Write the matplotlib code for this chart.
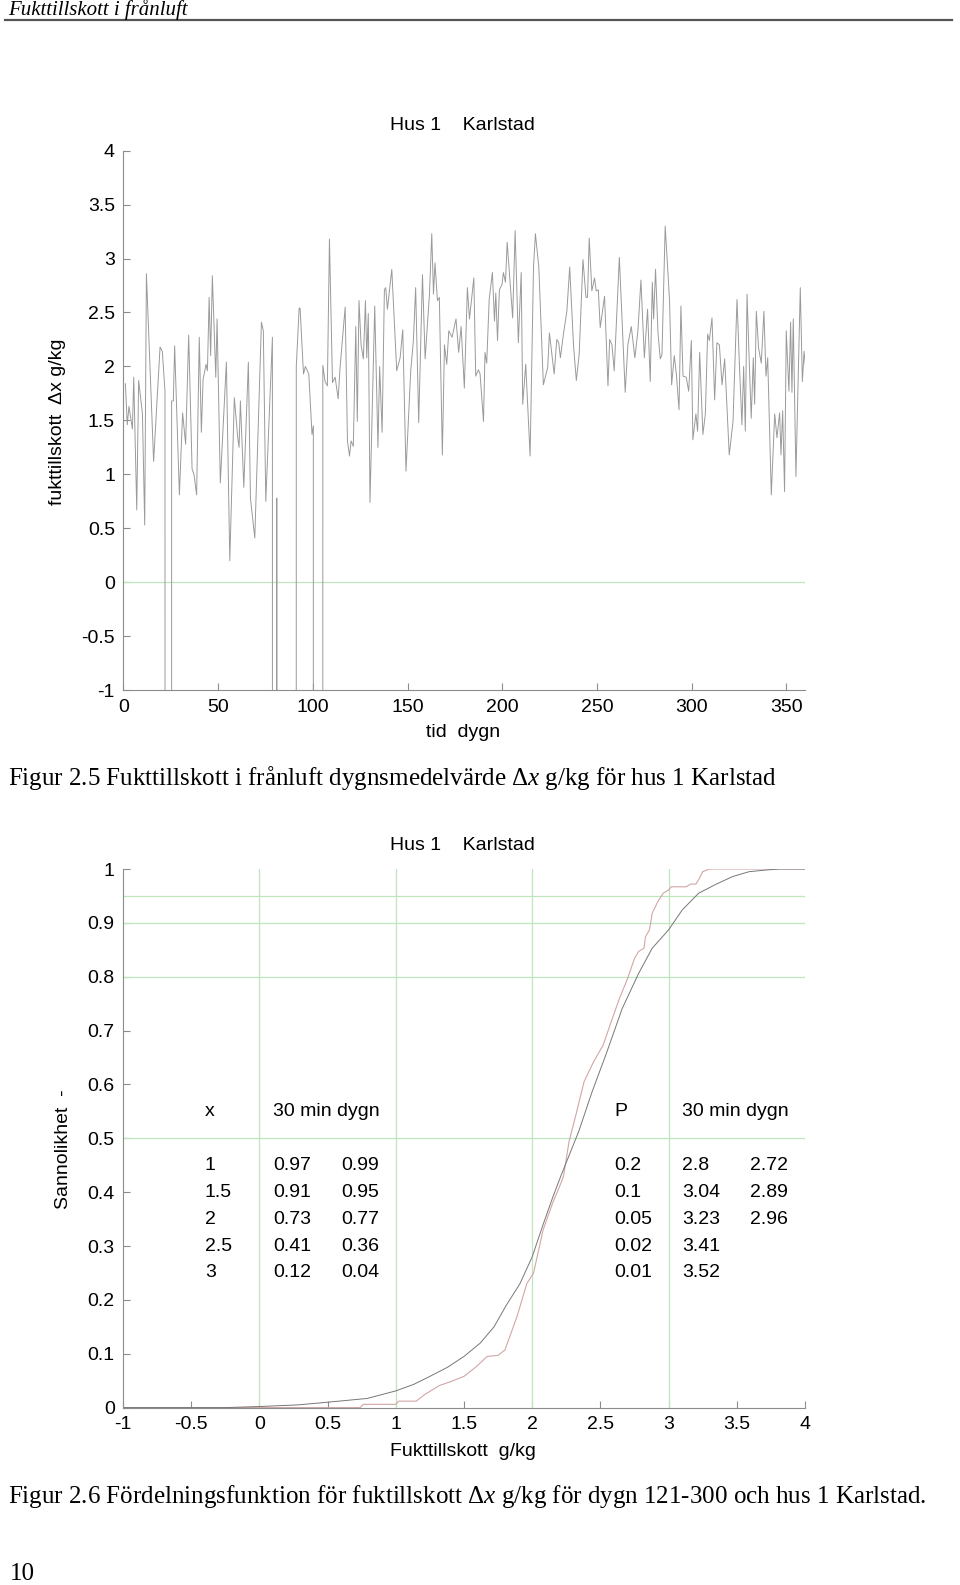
import matplotlib
matplotlib.use("Agg")
import matplotlib.pyplot as plt
from matplotlib.lines import Line2D

plt.rcParams["font.family"] = ["Liberation Sans", "DejaVu Sans"]
plt.rcParams["axes.unicode_minus"] = False
plt.rcParams["mathtext.fontset"] = "custom"
plt.rcParams["mathtext.rm"] = "Liberation Serif"
plt.rcParams["mathtext.it"] = "Liberation Serif:italic"

# ── Figur 2.5: dygnsmedelvärde, dag -> Δx g/kg (-99 = saknas) ──
day = [
    1.1, 2.1, 3.0, 4.8, 5.5, 7.1, 8.1, 10.1, 11.3, 12.2, 16.0, 19.4, 20.6, 22.0, 22.3,
    25.4, 25.5, 26.4, 27.1, 29.6, 31.3, 32.9, 34.5, 36.3, 37.3, 38.7, 40.1, 41.2, 42.1,
    43.7, 44.4, 45.3, 46.1, 47.0, 48.8, 49.5, 51.2, 54.4, 56.2, 58.6, 60.4, 61.1, 61.8,
    63.6, 66.0, 67.1, 69.4, 72.9, 73.9, 75.2, 78.7, 78.9, 80.9, 81.0, 81.1, 91.0, 91.3,
    92.8, 93.3, 95.1, 96.1, 97.9, 99.6, 100.3, 100.5, 105.2, 105.3, 106.5, 107.7, 108.8,
    110.4, 111.8, 113.4, 114.4, 117.1, 118.3, 119.4, 120.2, 121.4, 122.7, 123.5, 124.4,
    125.5, 126.7, 127.8, 128.5, 129.3, 130.2, 132.7, 134.4, 135.3, 136.6, 137.8, 138.5,
    139.4, 141.7, 144.3, 146.1, 147.5, 149.2, 151.7, 153.1, 154.3, 155.9, 157.9, 159.3,
    161.6, 162.8, 163.7, 164.5, 165.8, 166.8, 168.4, 169.5, 170.7, 171.8, 173.5, 175.6,
    177.0, 178.3, 180.0, 181.6, 182.7, 185.0, 186.0, 187.4, 188.3, 190.1, 190.9, 191.8,
    193.1, 194.8, 195.9, 196.6, 197.5, 198.5, 199.9, 200.6, 201.7, 202.6, 205.5, 206.8,
    208.5, 210.0, 210.8, 212.4, 214.7, 216.5, 217.5, 219.3, 221.7, 224.0, 224.9, 227.4,
    228.8, 229.8, 230.7, 232.3, 234.1, 235.6, 237.6, 239.1, 240.6, 242.6, 244.2, 245.0,
    245.9, 247.3, 248.7, 249.6, 250.7, 251.7, 254.0, 255.8, 256.7, 257.9, 259.1, 261.8,
    264.9, 266.3, 268.1, 270.0, 271.6, 273.2, 275.0, 276.7, 278.1, 279.2, 279.9, 280.9,
    282.2, 283.4, 284.3, 286.0, 288.3, 289.4, 290.8, 291.9, 293.3, 294.3, 295.4, 297.1,
    298.4, 299.8, 300.6, 302.2, 303.1, 304.2, 305.9, 307.2, 308.4, 309.3, 310.7, 312.1,
    313.3, 314.6, 316.0, 317.4, 319.8, 321.8, 323.9, 325.1, 326.5, 327.4, 328.3, 329.2,
    330.2, 331.4, 332.5, 333.2, 334.1, 335.3, 336.7, 338.1, 339.2, 340.1, 342.0, 343.8,
    345.0, 346.4, 347.1, 348.0, 349.0, 349.9, 351.3, 352.2, 352.9, 353.6, 355.0, 357.3,
    358.4, 359.3, 360.8,
]
dx = [
    1.84, 1.46, 1.63, 1.42, 1.90, 0.67, 1.87, 1.56, 0.53, 2.86, 1.12, 2.18, 2.14, 1.77, -99,
    -99, 1.68, 1.68, 2.19, 0.81, 1.57, 1.28, 2.29, 1.05, 1.00, 0.81, 2.27, 1.39, 1.88,
    2.02, 1.96, 2.64, 2.10, 2.84, 1.90, 2.44, 0.92, 2.04, 0.20, 1.71, 1.34, 1.25, 1.68,
    0.88, 2.04, 0.78, 0.41, 2.41, 2.33, 0.75, 2.27, -99, -99, 0.78, -99, -99, 2.00,
    2.54, 2.54, 1.93, 2.00, 1.93, 1.37, 1.45, -99, -99, 2.01, 1.86, 1.82, 3.18,
    1.85, 1.90, 1.70, 1.99, 2.55, 1.31, 1.17, 1.31, 1.26, 2.37, 1.49, 2.61,
    2.20, 2.07, 2.61, 2.08, 2.49, 0.74, 2.56, 1.25, 2.00, 1.39, 2.71, 2.73,
    2.53, 2.90, 1.96, 2.08, 2.34, 1.03, 1.96, 2.24, 2.73, 1.48, 2.85, 2.07,
    2.67, 3.23, 2.67, 2.96, 2.61, 2.64, 1.18, 2.20, 2.02, 2.33, 2.27, 2.44,
    2.13, 2.37, 1.80, 2.73, 2.44, 2.82, 1.91, 1.97, 1.93, 1.49, 2.13, 2.03,
    2.62, 2.87, 2.42, 2.68, 2.24, 2.71, 2.76, 2.87, 2.78, 3.15, 2.45, 3.26,
    2.22, 2.87, 1.65, 2.02, 1.17, 2.92, 3.23, 2.92, 1.83, 1.99, 2.31, 1.93,
    2.25, 2.22, 2.08, 2.30, 2.51, 2.92, 2.20, 1.87, 2.11, 2.99, 2.64, 2.64,
    3.19, 2.70, 2.82, 2.70, 2.71, 2.36, 2.65, 1.82, 2.25, 2.20, 1.96, 3.01,
    1.76, 2.20, 2.37, 2.08, 2.33, 2.80, 2.08, 2.53, 1.86, 2.78, 2.44, 2.90,
    2.31, 2.07, 2.11, 3.30, 2.61, 1.83, 2.10, 1.93, 1.60, 2.56, 1.91, 1.90,
    1.77, 2.24, 1.32, 1.56, 1.40, 2.13, 1.37, 1.56, 2.30, 2.24, 2.45, 1.69,
    2.22, 2.20, 1.83, 2.07, 1.18, 1.49, 2.62, 2.05, 1.46, 2.00, 1.40, 2.67,
    2.13, 1.52, 2.08, 1.65, 2.51, 2.17, 2.03, 2.51, 1.91, 2.08, 0.81, 1.56,
    1.34, 1.57, 1.18, 1.59, 0.84, 2.33, 1.77, 2.41, 1.76, 2.44, 0.98, 2.73,
    1.86, 2.14, 1.86,
]

# ── Figur 2.6: fördelningsfunktion ──
x_30min = [-1.0, -0.25, 0.0, 0.28, 0.5, 0.79, 1.0, 1.13, 1.25, 1.38, 1.5, 1.62, 1.72, 1.81,
           1.91, 2.0, 2.08, 2.15, 2.21, 2.34, 2.44, 2.54, 2.66, 2.78, 2.88, 3.0, 3.10, 3.22,
           3.35, 3.47, 3.59, 3.71, 3.81, 4.0]
p_30min = [0.0, 0.0, 0.002, 0.005, 0.010, 0.017, 0.031, 0.043, 0.058, 0.075, 0.095, 0.12,
           0.15, 0.19, 0.23, 0.28, 0.34, 0.39, 0.43, 0.512, 0.587, 0.655, 0.741, 0.806,
           0.853, 0.887, 0.924, 0.955, 0.972, 0.986, 0.995, 0.998, 1.0, 1.0]
x_dygn = [-1.0, 0.74, 0.76, 1.0, 1.02, 1.15, 1.21, 1.32, 1.40, 1.50, 1.59, 1.67, 1.75, 1.80,
          1.89, 1.96, 2.01, 2.08, 2.15, 2.20, 2.23, 2.27, 2.32, 2.38, 2.45, 2.52, 2.58,
          2.64, 2.70, 2.75, 2.78, 2.82, 2.83, 2.86, 2.88, 2.92, 2.96, 3.0, 3.02, 3.13,
          3.16, 3.20, 3.22, 3.25, 3.30, 4.0]
p_dygn = [0.0, 0.0, 0.006, 0.006, 0.012, 0.012, 0.024, 0.041, 0.048, 0.058, 0.076, 0.095,
          0.097, 0.107, 0.17, 0.23, 0.25, 0.33, 0.38, 0.41, 0.43, 0.494, 0.543, 0.605,
          0.642, 0.673, 0.717, 0.760, 0.797, 0.834, 0.847, 0.853, 0.874, 0.887, 0.918,
          0.939, 0.955, 0.961, 0.967, 0.967, 0.972, 0.972, 0.980, 0.995, 1.0, 1.0]
p_levels = [0.5, 0.8, 0.9, 0.95]
x_levels = [0, 1, 2, 3]

tab_x = ["1", "1.5", "2", "2.5", "3"]
tab_x_30min = ["0.97", "0.91", "0.73", "0.41", "0.12"]
tab_x_dygn = ["0.99", "0.95", "0.77", "0.36", "0.04"]
tab_p = ["0.2", "0.1", "0.05", "0.02", "0.01"]
tab_p_30min = ["2.8", "3.04", "3.23", "3.41", "3.52"]
tab_p_dygn = ["2.72", "2.89", "2.96", "", ""]

W, H = 960, 1585
SPINE = "#8c8c8c"
GREEN = "#bfe6bf"
FS = 14
CAP = 18


def px_axes(fig, x0, y0, x1, y1):
    return fig.add_axes([x0 / W, 1 - y1 / H, (x1 - x0) / W, (y1 - y0) / H])


def matlab_style(ax):
    for s in ("top", "right"):
        ax.spines[s].set_visible(False)
    for s in ("left", "bottom"):
        ax.spines[s].set_color(SPINE)
        ax.spines[s].set_linewidth(0.8)
    ax.tick_params(direction="in", length=5, width=0.8, color=SPINE,
                   labelsize=FS, labelcolor="black", pad=6)
    ax.patch.set_alpha(0)


def ftxt(x, y, s, **kw):
    fig.text(x / W, 1 - y / H, s, **kw)


fig = plt.figure(figsize=(W / 100, H / 100), dpi=100)

# sidhuvud
ftxt(8, 10, "Fukttillskott i frånluft", family="Liberation Serif", style="italic",
     fontsize=15, va="center", ha="left")
fig.add_artist(Line2D([5 / W, 952 / W], [1 - 20 / H, 1 - 20 / H], color="#555555", lw=1.6))

# ── övre diagram ──
ax1 = px_axes(fig, 123.3, 150.6, 805.4, 690.2)
matlab_style(ax1)
ax1.axhline(0, color=GREEN, lw=0.9)
ax1.plot(day, dx, color="#9a9a9a", lw=0.7)
ax1.set_xlim(0, 360)
ax1.set_ylim(-1, 4)
ax1.set_xticks(range(0, 351, 50))
ax1.set_yticks([-1, -0.5, 0, 0.5, 1, 1.5, 2, 2.5, 3, 3.5, 4])
ax1.set_yticklabels(["-1", "-0.5", "0", "0.5", "1", "1.5", "2", "2.5", "3", "3.5", "4"])
ftxt(462, 126, "Hus 1    Karlstad", fontsize=FS, ha="center", va="center")
ftxt(463, 733, "tid  dygn", fontsize=FS, ha="center", va="center")
ftxt(58, 422, "fukttillskott  Δx g/kg", fontsize=FS, ha="center", va="center", rotation=90)

ftxt(8, 778, r"Figur 2.5 Fukttillskott i frånluft dygnsmedelvärde $\Delta x$ g/kg för hus 1 Karlstad",
     family="Liberation Serif", fontsize=CAP, ha="left", va="center")

# ── nedre diagram ──
ax2 = px_axes(fig, 123, 869, 805, 1407.6)
matlab_style(ax2)
for p in p_levels:
    ax2.axhline(p, color=GREEN, lw=0.9)
for xv in x_levels:
    ax2.axvline(xv, color=GREEN, lw=0.9)
ax2.plot(x_dygn, p_dygn, color="#d2a6a6", lw=0.8)
ax2.plot(x_30min, p_30min, color="#777777", lw=0.7)
ax2.set_xlim(-1, 4)
ax2.set_ylim(0, 1)
ax2.set_xticks([-1, -0.5, 0, 0.5, 1, 1.5, 2, 2.5, 3, 3.5, 4])
ax2.set_xticklabels(["-1", "-0.5", "0", "0.5", "1", "1.5", "2", "2.5", "3", "3.5", "4"])
ax2.set_yticks([0, 0.1, 0.2, 0.3, 0.4, 0.5, 0.6, 0.7, 0.8, 0.9, 1])
ax2.set_yticklabels(["0", "0.1", "0.2", "0.3", "0.4", "0.5", "0.6", "0.7", "0.8", "0.9", "1"])

# tabeller i diagrammet
ax2.text(-0.4, 0.55, "x", fontsize=FS, va="center")
ax2.text(0.1, 0.55, "30 min dygn", fontsize=FS, va="center")
ax2.text(2.6, 0.55, "P", fontsize=FS, va="center")
ax2.text(3.1, 0.55, "30 min dygn", fontsize=FS, va="center")
for i in range(5):
    yy = 0.45 - 0.05 * i
    ax2.text(-0.4, yy, tab_x[i], fontsize=FS, va="center")
    ax2.text(0.1, yy, tab_x_30min[i], fontsize=FS, va="center")
    ax2.text(0.6, yy, tab_x_dygn[i], fontsize=FS, va="center")
    ax2.text(2.6, yy, tab_p[i], fontsize=FS, va="center")
    ax2.text(3.1, yy, tab_p_30min[i], fontsize=FS, va="center")
    ax2.text(3.6, yy, tab_p_dygn[i], fontsize=FS, va="center")

ftxt(462, 845, "Hus 1    Karlstad", fontsize=FS, ha="center", va="center")
ftxt(463, 1452, "Fukttillskott  g/kg", fontsize=FS, ha="center", va="center")
ftxt(63, 1149, "Sannolikhet  -", fontsize=FS, ha="center", va="center", rotation=90)

ftxt(8, 1497, r"Figur 2.6 Fördelningsfunktion för fuktillskott $\Delta x$ g/kg för dygn 121-300 och hus 1 Karlstad.",
     family="Liberation Serif", fontsize=CAP, ha="left", va="center")
ftxt(10, 1574, "10", family="Liberation Serif", fontsize=CAP, ha="left", va="center")

fig.savefig("out.png", dpi=100)
